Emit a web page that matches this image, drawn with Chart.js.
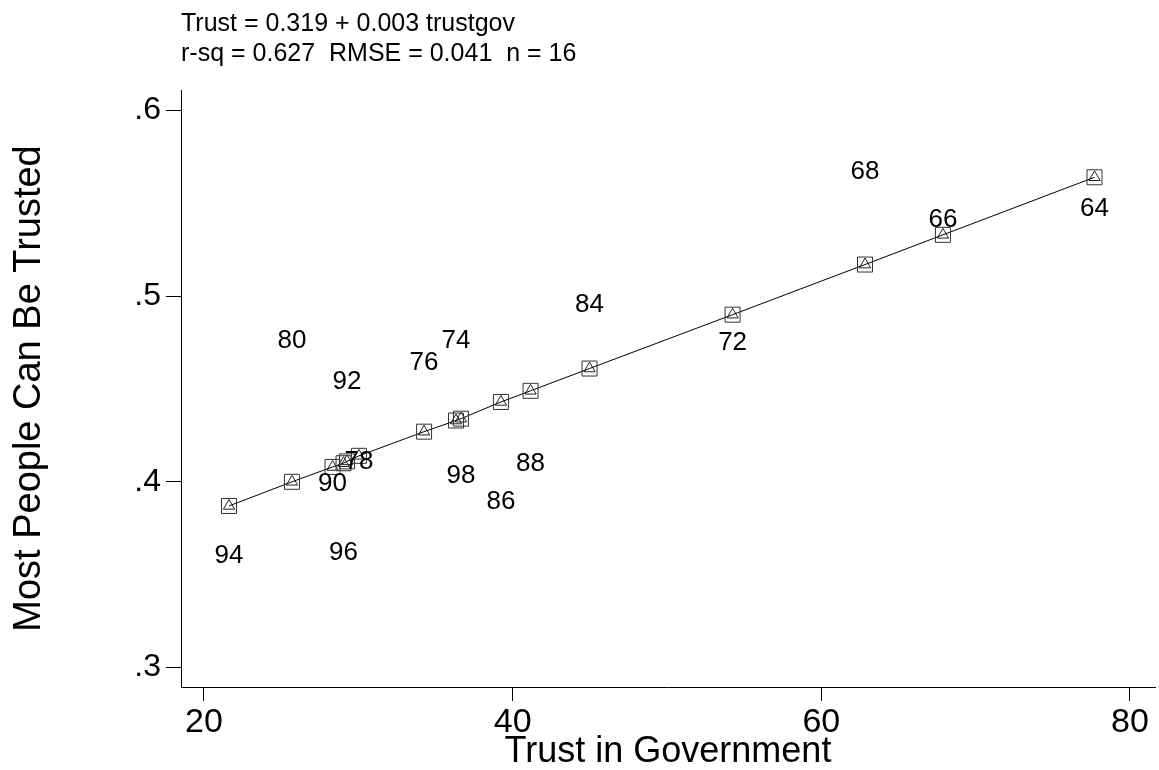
<!DOCTYPE html>
<html>
<head>
<meta charset="utf-8">
<script src="https://cdn.jsdelivr.net/npm/chart.js@4.4.1/dist/chart.umd.min.js"></script>
<style>
  html, body { margin: 0; padding: 0; background: #ffffff; }
  canvas { display: block; }
</style>
</head>
<body>
<canvas id="chart" width="1159" height="770"></canvas>
<script>
// Survey years (used as point labels)
const years = ['64', '66', '68', '72', '74', '76', '78', '80', '84', '86', '88', '90', '92', '94', '96', '98'];
// Trust in government index
const trustGov = [77.70, 67.88, 62.83, 54.25, 36.33, 34.26, 30.04, 25.70, 44.98, 39.24, 41.16, 28.33, 29.27, 21.62, 29.04, 36.65];
// Share saying most people can be trusted
const trustPeople = [0.547, 0.541, 0.567, 0.475, 0.476, 0.464, 0.411, 0.476, 0.4955, 0.389, 0.4096, 0.399, 0.454, 0.360, 0.362, 0.403];
// Fitted values from the regression of trust on trustgov
const fittedTrust = [0.564, 0.533, 0.517, 0.490, 0.433, 0.427, 0.414, 0.400, 0.461, 0.443, 0.449, 0.408, 0.411, 0.387, 0.410, 0.434];

const xTicks = [20, 40, 60, 80];
const yTicks = [0.3, 0.4, 0.5, 0.6];
const yTickLabels = ['.3', '.4', '.5', '.6'];
const headerLines = ['Trust = 0.319 + 0.003 trustgov', 'r-sq = 0.627  RMSE = 0.041  n = 16'];
const xTitle = 'Trust in Government';
const yTitle = 'Most People Can Be Trusted';

const FONT = "'Liberation Sans', Arial, Helvetica, sans-serif";

const fitPoints = trustGov
  .map((x, i) => ({ x: x, y: fittedTrust[i] }))
  .sort((a, b) => a.x - b.x);
const observedPoints = trustGov.map((x, i) => ({ x: x, y: trustPeople[i] }));

// Writes each survey year centred on its observed point
const yearLabels = {
  id: 'yearLabels',
  afterDatasetsDraw(chart) {
    const meta = chart.getDatasetMeta(2);
    const ctx = chart.ctx;
    ctx.save();
    ctx.font = '26px ' + FONT;
    ctx.fillStyle = '#000000';
    ctx.textAlign = 'center';
    ctx.textBaseline = 'middle';
    meta.data.forEach((pt, i) => {
      ctx.fillText(years[i], pt.x, pt.y);
    });
    ctx.restore();
  }
};

new Chart(document.getElementById('chart'), {
  type: 'scatter',
  data: {
    datasets: [
      {
        label: 'fit',
        data: fitPoints,
        showLine: true,
        borderColor: '#000000',
        borderWidth: 1,
        pointStyle: 'rect',
        pointRadius: 10.6,
        pointBorderColor: '#333333',
        pointBorderWidth: 1,
        pointBackgroundColor: 'rgba(0,0,0,0)',
        tension: 0
      },
      {
        label: 'fit marker',
        data: fitPoints,
        showLine: false,
        pointStyle: 'triangle',
        pointRadius: 6.5,
        pointBorderColor: '#222222',
        pointBorderWidth: 1,
        pointBackgroundColor: 'rgba(0,0,0,0)'
      },
      {
        label: 'trust',
        data: observedPoints,
        showLine: false,
        pointRadius: 0,
        pointHoverRadius: 0
      }
    ]
  },
  options: {
    responsive: false,
    animation: false,
    events: [],
    layout: { autoPadding: false, padding: { left: 0, right: 4, top: 0, bottom: 0 } },
    plugins: {
      legend: { display: false },
      tooltip: { enabled: false },
      title: {
        display: true,
        text: headerLines,
        align: 'start',
        fullSize: false,
        color: '#000000',
        font: { family: FONT, size: 25, weight: 'normal', lineHeight: 1.2 },
        padding: { top: 9, bottom: 21 }
      }
    },
    scales: {
      x: {
        type: 'linear',
        position: 'bottom',
        min: 18.51,
        max: 81.62,
        afterBuildTicks(scale) { scale.ticks = xTicks.map(v => ({ value: v })); },
        afterFit(scale) {
          scale.height = 83;
          scale.paddingLeft = 0;
          scale.paddingRight = 0;
        },
        ticks: {
          color: '#000000',
          font: { family: FONT, size: 34 },
          padding: 1,
          maxRotation: 0,
          callback: (v) => String(v)
        },
        grid: {
          display: true,
          drawOnChartArea: false,
          drawTicks: true,
          tickLength: 14,
          color: '#000000',
          lineWidth: 1
        },
        border: { display: true, color: '#000000', width: 1 },
        title: {
          display: true,
          text: xTitle,
          color: '#000000',
          font: { family: FONT, size: 36, lineHeight: 1.0 },
          padding: { top: 0, bottom: 0 }
        }
      },
      y: {
        type: 'linear',
        position: 'left',
        min: 0.2895,
        max: 0.611,
        afterBuildTicks(scale) { scale.ticks = yTicks.map(v => ({ value: v })); },
        afterFit(scale) {
          scale.width = 181;
          scale.paddingTop = 0;
          scale.paddingBottom = 0;
        },
        ticks: {
          color: '#000000',
          font: { family: FONT, size: 32 },
          padding: 5,
          callback: (v) => yTickLabels[yTicks.findIndex(t => Math.abs(t - v) < 1e-9)]
        },
        grid: {
          display: true,
          drawOnChartArea: false,
          drawTicks: true,
          tickLength: 15,
          color: '#000000',
          lineWidth: 1
        },
        border: { display: true, color: '#000000', width: 1 },
        title: {
          display: true,
          text: yTitle,
          color: '#000000',
          font: { family: FONT, size: 38, lineHeight: 1.0 },
          padding: { top: 11, bottom: 0 }
        }
      }
    }
  },
  plugins: [yearLabels]
});
</script>
</body>
</html>
